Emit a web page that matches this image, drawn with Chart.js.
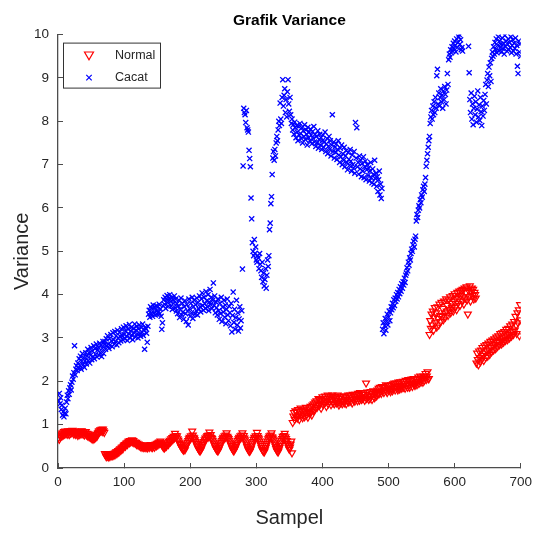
<!DOCTYPE html>
<html>
<head>
<meta charset="utf-8">
<script src="https://cdn.jsdelivr.net/npm/chart.js@4.4.1/dist/chart.umd.min.js"></script>
<style>
  html, body { margin: 0; padding: 0; background: #fff; }
  #wrap { width: 543px; height: 536px; }
</style>
</head>
<body>
<div id="wrap"><canvas id="myChart" width="543" height="536"></canvas></div>
<script>
// Variance per sample (sample number = index + 1)
var normal = [
  0.70,0.66,0.76,0.72,0.79,0.74,0.81,0.76,0.84,0.78,
  0.85,0.79,0.83,0.78,0.86,0.81,0.77,0.85,0.80,0.86,
  0.81,0.87,0.82,0.78,0.85,0.80,0.77,0.82,0.79,0.75,
  0.81,0.84,0.77,0.85,0.79,0.86,0.81,0.78,0.83,0.76,
  0.80,0.84,0.76,0.80,0.74,0.79,0.72,0.76,0.70,0.74,
  0.68,0.73,0.66,0.72,0.68,0.74,0.70,0.77,0.73,0.80,
  0.82,0.86,0.83,0.88,0.85,0.89,0.84,0.90,0.86,0.82,
  0.33,0.30,0.26,0.32,0.27,0.30,0.25,0.29,0.31,0.27,
  0.30,0.33,0.28,0.31,0.34,0.30,0.35,0.37,0.33,0.38,
  0.40,0.36,0.42,0.44,0.40,0.46,0.48,0.44,0.50,0.52,
  0.54,0.50,0.56,0.58,0.54,0.60,0.62,0.58,0.63,0.60,
  0.62,0.65,0.60,0.63,0.58,0.60,0.57,0.59,0.54,0.57,
  0.53,0.55,0.51,0.54,0.49,0.53,0.48,0.52,0.47,0.51,
  0.48,0.53,0.47,0.51,0.46,0.50,0.53,0.47,0.51,0.54,
  0.48,0.52,0.47,0.51,0.54,0.48,0.52,0.55,0.51,0.57,
  0.53,0.58,0.60,0.56,0.62,0.58,0.54,0.52,0.49,0.47,
  0.46,0.49,0.53,0.50,0.55,0.58,0.54,0.61,0.64,0.60,
  0.67,0.63,0.70,0.66,0.73,0.69,0.80,0.75,0.70,0.74,
  0.67,0.64,0.60,0.57,0.54,0.50,0.47,0.45,0.43,0.41,
  0.45,0.42,0.48,0.51,0.55,0.59,0.63,0.67,0.71,0.67,
  0.74,0.70,0.85,0.76,0.71,0.69,0.65,0.61,0.57,0.53,
  0.49,0.46,0.43,0.40,0.39,0.42,0.46,0.50,0.54,0.58,
  0.61,0.65,0.69,0.66,0.72,0.75,0.71,0.76,0.83,0.72,
  0.77,0.70,0.68,0.64,0.60,0.56,0.52,0.48,0.45,0.42,
  0.40,0.39,0.43,0.47,0.51,0.55,0.59,0.63,0.67,0.71,
  0.67,0.74,0.70,0.76,0.81,0.73,0.71,0.68,0.64,0.60,
  0.56,0.52,0.48,0.44,0.41,0.39,0.43,0.46,0.50,0.54,
  0.58,0.63,0.67,0.71,0.67,0.74,0.70,0.76,0.81,0.71,
  0.75,0.69,0.65,0.60,0.55,0.50,0.46,0.42,0.39,0.38,
  0.42,0.46,0.51,0.56,0.61,0.66,0.71,0.67,0.74,0.70,
  0.82,0.75,0.71,0.67,0.62,0.57,0.52,0.47,0.43,0.40,
  0.38,0.37,0.42,0.47,0.52,0.57,0.62,0.67,0.71,0.74,
  0.70,0.76,0.81,0.72,0.69,0.65,0.60,0.55,0.50,0.45,
  0.41,0.38,0.37,0.42,0.47,0.52,0.58,0.63,0.68,0.73,
  0.69,0.75,0.80,0.72,0.68,0.63,0.57,0.52,0.47,0.43,
  0.48,0.55,0.62,0.35,1.05,1.20,1.28,1.12,1.32,1.18,
  1.30,1.15,1.35,1.22,1.12,1.30,1.38,1.20,1.33,1.16,
  1.25,1.36,1.18,1.30,1.40,1.22,1.34,1.17,1.28,1.38,
  1.26,1.42,1.30,1.22,1.45,1.32,1.48,1.35,1.52,1.38,
  1.55,1.40,1.50,1.60,1.44,1.58,1.48,1.38,1.56,1.64,
  1.46,1.60,1.50,1.66,1.52,1.42,1.60,1.68,1.48,1.62,
  1.54,1.66,1.46,1.58,1.68,1.50,1.62,1.48,1.65,1.55,
  1.50,1.62,1.68,1.52,1.45,1.60,1.50,1.66,1.55,1.48,
  1.54,1.64,1.50,1.66,1.58,1.48,1.62,1.54,1.68,1.52,
  1.58,1.68,1.54,1.64,1.50,1.70,1.58,1.66,1.54,1.70,
  1.60,1.68,1.55,1.72,1.62,1.56,1.74,1.62,1.58,1.70,
  1.60,1.74,1.64,1.56,1.70,1.96,1.60,1.75,1.64,1.58,
  1.68,1.60,1.76,1.66,1.58,1.72,1.78,1.64,1.62,1.76,
  1.74,1.66,1.80,1.70,1.84,1.72,1.86,1.76,1.72,1.88,
  1.78,1.88,1.74,1.86,1.80,1.92,1.78,1.74,1.90,1.82,
  1.90,1.80,1.76,1.92,1.84,1.78,1.94,1.84,1.96,1.80,
  1.88,1.96,1.84,1.80,1.98,1.88,1.82,1.99,1.90,1.84,
  1.90,2.00,1.86,1.94,1.84,2.02,1.90,1.96,1.86,2.04,
  1.92,1.86,2.02,1.94,2.05,1.88,1.98,2.06,1.94,1.90,
  1.96,2.06,1.92,2.00,2.10,1.95,2.04,2.12,1.98,2.06,
  2.08,1.98,2.12,2.02,2.10,2.18,2.04,2.12,2.22,2.06,
  2.06,3.08,3.40,3.22,3.55,3.30,3.62,3.18,3.48,3.70,
  3.35,3.58,3.25,3.72,3.45,3.30,3.78,3.52,3.38,3.82,
  3.50,3.68,3.42,3.85,3.58,3.48,3.90,3.62,3.75,3.52,
  3.88,3.66,3.95,3.58,3.80,3.70,3.98,3.62,3.85,4.02,
  3.72,3.92,3.65,4.05,3.80,3.90,4.08,3.75,3.98,4.10,
  3.85,4.12,3.95,3.78,4.15,3.92,4.05,4.18,3.88,3.55,
  4.10,3.95,4.20,3.85,4.08,4.15,3.98,4.12,3.90,4.05,
  4.00,3.92,2.42,2.65,2.50,2.38,2.70,2.55,2.45,2.72,
  2.52,2.78,2.60,2.48,2.82,2.65,2.55,2.85,2.70,2.58,
  2.88,2.72,2.62,2.92,2.78,2.68,2.95,2.82,2.72,2.98,
  2.85,2.75,3.02,2.90,2.80,3.05,2.92,2.84,3.10,2.95,
  2.86,3.12,2.98,2.90,3.15,3.02,2.94,3.20,3.05,2.96,
  3.22,3.08,3.00,3.28,3.12,3.04,3.32,3.15,3.08,3.38,
  3.18,3.50,3.30,3.10,3.58,3.35,3.65,3.05,3.77,3.42
];

var cacat = [
  1.55,1.72,1.48,1.62,1.35,1.45,1.22,1.30,1.18,1.26,
  1.38,1.25,1.52,1.68,1.60,1.78,1.70,1.85,1.92,1.80,
  1.98,2.12,2.05,2.20,2.82,2.15,2.28,2.36,2.25,2.42,
  2.30,2.52,2.36,2.58,2.28,2.46,2.64,2.38,2.55,2.32,
  2.47,2.66,2.40,2.58,2.74,2.48,2.66,2.42,2.60,2.78,
  2.50,2.70,2.57,2.82,2.52,2.75,2.62,2.86,2.56,2.72,
  2.78,2.60,2.88,2.66,2.83,2.57,2.76,2.92,2.64,2.85,
  2.92,2.74,2.98,2.82,3.05,2.86,2.76,2.99,2.84,3.08,
  2.93,2.80,3.12,2.96,2.86,3.15,2.92,3.05,2.84,3.18,
  3.00,2.89,3.13,3.04,2.93,3.21,3.06,2.96,3.25,3.08,
  2.98,3.16,3.28,3.04,2.94,3.20,3.10,3.31,3.00,3.16,
  3.24,3.06,2.96,3.22,3.12,3.32,3.02,3.18,3.27,3.09,
  3.00,3.21,3.30,3.10,3.04,3.24,3.14,3.32,3.06,3.19,
  2.74,3.25,3.21,3.11,2.90,3.27,3.55,3.64,3.48,3.72,
  3.56,3.68,3.50,3.76,3.58,3.70,3.53,3.74,3.62,3.55,
  3.72,3.60,3.78,3.56,3.67,3.50,3.20,3.35,3.74,3.88,
  3.78,3.94,3.68,3.90,3.98,3.82,3.73,3.92,4.00,3.84,
  3.74,3.94,3.66,3.88,3.80,3.97,3.70,3.90,3.62,3.79,
  3.56,3.74,3.87,3.47,3.66,3.92,3.53,3.80,3.60,3.43,
  3.72,3.86,3.56,3.38,3.77,3.62,3.30,3.90,3.68,3.50,
  3.80,3.58,3.94,3.45,3.72,3.87,3.55,3.77,3.63,3.92,
  3.53,3.82,3.67,3.97,3.72,3.60,3.90,4.04,3.75,3.64,
  3.94,3.79,3.68,4.07,3.86,3.72,4.00,3.63,3.83,4.12,
  3.77,3.94,3.68,3.87,4.27,3.75,3.97,3.58,3.83,3.70,
  3.53,3.90,3.63,3.43,3.80,3.56,3.94,3.38,3.71,3.60,
  3.87,3.48,3.76,3.33,3.66,3.90,3.53,3.40,3.73,3.58,
  3.28,3.80,3.14,3.52,4.06,3.36,3.66,3.20,3.47,3.87,
  3.30,3.58,3.16,3.44,3.72,3.23,3.40,3.63,4.59,6.97,
  8.30,8.20,8.15,7.97,8.25,7.85,7.80,7.75,7.33,7.14,
  6.95,6.23,5.75,5.20,5.00,4.90,5.27,4.95,5.10,4.80,
  4.75,4.90,4.85,4.60,4.95,4.70,4.55,4.40,4.75,4.30,
  4.50,4.20,4.35,4.60,4.15,4.45,4.80,4.65,4.90,5.50,
  5.65,6.10,6.26,6.77,7.15,7.30,7.10,7.35,7.20,7.50,
  7.65,7.55,7.80,8.00,7.90,8.42,8.05,7.95,8.55,8.96,
  8.35,8.60,8.75,8.20,8.50,8.10,8.68,8.96,8.40,8.23,
  8.55,8.15,7.95,8.05,7.80,7.92,7.70,7.98,7.85,7.62,
  7.90,7.75,7.55,7.88,7.68,7.95,7.72,7.60,7.85,7.50,
  7.78,7.65,7.92,7.58,7.80,7.70,7.45,7.86,7.62,7.75,
  7.55,7.82,7.68,7.48,7.76,7.60,7.88,7.52,7.70,7.42,
  7.65,7.50,7.78,7.38,7.58,7.70,7.45,7.62,7.35,7.55,
  7.68,7.40,7.52,7.75,7.30,7.48,7.60,7.25,7.42,7.65,
  7.35,7.55,7.20,7.45,8.15,7.30,7.52,7.15,7.40,7.28,
  7.48,7.12,7.35,7.55,7.22,7.05,7.38,7.18,7.45,7.00,
  7.25,7.10,7.40,6.95,7.20,7.32,7.05,6.88,7.28,7.12,
  6.98,7.35,7.08,6.85,7.22,7.00,6.92,7.30,6.80,7.97,
  7.15,7.85,6.95,7.05,6.78,7.20,6.90,7.10,6.72,7.02,
  6.85,7.18,6.70,6.95,7.08,6.65,6.88,7.00,6.75,6.92,
  6.62,6.85,7.05,6.70,6.58,6.90,6.78,6.55,7.10,6.68,
  6.80,6.50,6.72,6.38,6.65,6.85,6.30,6.55,6.22,6.45,
  3.20,3.35,3.10,3.28,3.45,3.18,3.38,3.55,3.30,3.48,
  3.62,3.40,3.58,3.72,3.65,3.80,3.70,3.88,3.75,3.92,
  3.85,4.00,3.90,4.05,3.95,4.12,4.02,4.18,4.08,4.25,
  4.15,4.30,4.22,4.38,4.28,4.45,4.50,4.62,4.55,4.75,
  4.68,4.85,4.80,4.95,5.05,5.00,5.15,5.23,5.10,5.28,
  5.35,5.70,5.85,5.78,5.95,6.05,6.00,6.19,6.12,6.30,
  6.25,6.42,6.50,6.38,6.55,6.70,6.96,7.10,7.25,7.40,
  7.55,7.65,7.95,8.10,8.25,8.05,8.35,8.15,8.45,8.20,
  8.55,8.30,9.05,9.20,8.40,8.65,8.35,8.55,8.75,8.45,
  8.60,8.30,8.70,8.50,8.80,8.62,8.40,8.72,9.10,8.85,
  9.42,9.55,9.48,9.65,9.58,9.72,9.62,9.80,9.68,9.85,
  9.75,9.60,9.90,9.70,9.82,9.95,10.00,9.78,9.88,9.65,
  9.70,9.62,null,null,null,null,null,null,null,null,
  9.73,9.12,8.50,8.20,8.65,8.05,8.40,7.92,8.30,8.58,
  8.15,8.45,7.98,8.28,8.70,8.10,8.38,8.02,8.55,8.22,
  7.90,8.35,8.12,8.48,8.25,8.62,8.85,8.40,8.95,9.10,
  8.80,9.25,9.05,9.35,8.92,9.45,9.60,9.50,9.72,9.55,
  9.82,9.65,9.90,9.58,9.75,9.95,9.62,9.85,9.70,9.78,
  9.60,9.92,9.68,9.80,9.55,9.98,9.72,9.85,9.62,9.78,
  9.90,9.65,9.82,9.70,9.95,9.58,9.75,9.88,9.62,9.80,
  9.68,9.92,9.55,9.75,9.27,9.10,9.85,9.60,9.78,9.50
];

var xTicks = [0, 100, 200, 300, 400, 500, 600, 700];
var yTicks = [0, 1, 2, 3, 4, 5, 6, 7, 8, 9, 10];
var seriesNames = ['Normal', 'Cacat'];

function toPoints(arr) {
    var pts = [];
    arr.forEach(function (v, i) {
        if (v !== null) pts.push({ x: i + 1, y: v });
    });
    return pts;
}

var axisColor = '#4d4d4d';
var textColor = '#262626';
var fontFamily = '"Liberation Sans", Arial, sans-serif';

// legend box drawn inside the plot, like MATLAB's 'northwest' legend
var legendBox = {
    id: 'legendBox',
    afterDraw: function (chart) {
        var ctx = chart.ctx;
        var a = chart.chartArea;
        var x0 = a.left + 5, y0 = a.top + 8, w = 97, h = 45;
        ctx.save();
        ctx.fillStyle = '#ffffff';
        ctx.fillRect(x0, y0, w, h);
        ctx.strokeStyle = '#333333';
        ctx.lineWidth = 1;
        ctx.strokeRect(x0 + 0.5, y0 + 0.5, w, h);

        var mx = x0 + 26, y1 = y0 + 13, y2 = y0 + 35;
        // down triangle
        ctx.strokeStyle = '#ff0000';
        ctx.lineWidth = 1.2;
        ctx.beginPath();
        ctx.moveTo(mx - 4.5, y1 - 3.6);
        ctx.lineTo(mx + 4.5, y1 - 3.6);
        ctx.lineTo(mx, y1 + 4.2);
        ctx.closePath();
        ctx.stroke();
        // x mark
        ctx.strokeStyle = '#0000ff';
        ctx.beginPath();
        ctx.moveTo(mx - 2.7, y2 - 2.7); ctx.lineTo(mx + 2.7, y2 + 2.7);
        ctx.moveTo(mx - 2.7, y2 + 2.7); ctx.lineTo(mx + 2.7, y2 - 2.7);
        ctx.stroke();

        ctx.fillStyle = textColor;
        ctx.font = '12.5px ' + fontFamily;
        ctx.textAlign = 'left';
        ctx.textBaseline = 'middle';
        ctx.fillText(seriesNames[0], x0 + 52, y1);
        ctx.fillText(seriesNames[1], x0 + 52, y2);
        ctx.restore();
    }
};

document.addEventListener('DOMContentLoaded', function () {
    var ctx = document.getElementById('myChart').getContext('2d');

    new Chart(ctx, {
        type: 'scatter',
        data: {
            datasets: [{
                label: seriesNames[0],
                data: toPoints(normal),
                pointStyle: 'triangle',
                rotation: 180,
                pointRadius: 4,
                pointHoverRadius: 4,
                borderColor: '#ff0000',
                backgroundColor: 'rgba(0,0,0,0)',
                borderWidth: 1.2,
                order: 2
            },
            {
                label: seriesNames[1],
                data: toPoints(cacat),
                pointStyle: 'crossRot',
                pointRadius: 3.6,
                pointHoverRadius: 3.6,
                borderColor: '#0000ff',
                backgroundColor: '#0000ff',
                borderWidth: 1.3,
                order: 1
            }]
        },
        options: {
            responsive: false,
            animation: false,
            devicePixelRatio: 1,
            layout: {
                padding: { left: 0, right: 13, top: 0, bottom: 0 }
            },
            scales: {
                x: {
                    type: 'linear',
                    min: 0,
                    max: 700,
                    afterBuildTicks: function (scale) {
                        scale.ticks = xTicks.map(function (v) { return { value: v }; });
                    },
                    afterFit: function (scale) { scale.height = 68; },
                    grid: {
                        display: true,
                        drawOnChartArea: false,
                        drawTicks: true,
                        tickLength: -5,
                        color: axisColor,
                        lineWidth: 1
                    },
                    border: { display: true, color: axisColor, width: 1.3 },
                    ticks: {
                        color: textColor,
                        padding: 11,
                        maxRotation: 0,
                        font: { family: fontFamily, size: 13.5 }
                    },
                    title: {
                        display: true,
                        text: 'Sampel',
                        color: textColor,
                        padding: { top: 0, bottom: 6 },
                        font: { family: fontFamily, size: 20 }
                    }
                },
                y: {
                    type: 'linear',
                    min: 0,
                    max: 10,
                    afterBuildTicks: function (scale) {
                        scale.ticks = yTicks.map(function (v) { return { value: v }; });
                    },
                    afterFit: function (scale) { scale.width = 58; },
                    grid: {
                        display: true,
                        drawOnChartArea: false,
                        drawTicks: true,
                        tickLength: -5,
                        color: axisColor,
                        lineWidth: 1
                    },
                    border: { display: true, color: axisColor, width: 1.3 },
                    ticks: {
                        color: textColor,
                        padding: 14,
                        font: { family: fontFamily, size: 13.5 }
                    },
                    title: {
                        display: true,
                        text: 'Variance',
                        color: textColor,
                        padding: { top: 10, bottom: 0 },
                        font: { family: fontFamily, size: 20 }
                    }
                }
            },
            plugins: {
                legend: { display: false },
                tooltip: { enabled: false },
                title: {
                    display: true,
                    fullSize: false,
                    text: 'Grafik Variance',
                    color: '#000000',
                    padding: { top: 11, bottom: 5 },
                    font: { family: fontFamily, size: 15.5, weight: 'bold' }
                }
            }
        },
        plugins: [legendBox]
    });
});
</script>
</body>
</html>
